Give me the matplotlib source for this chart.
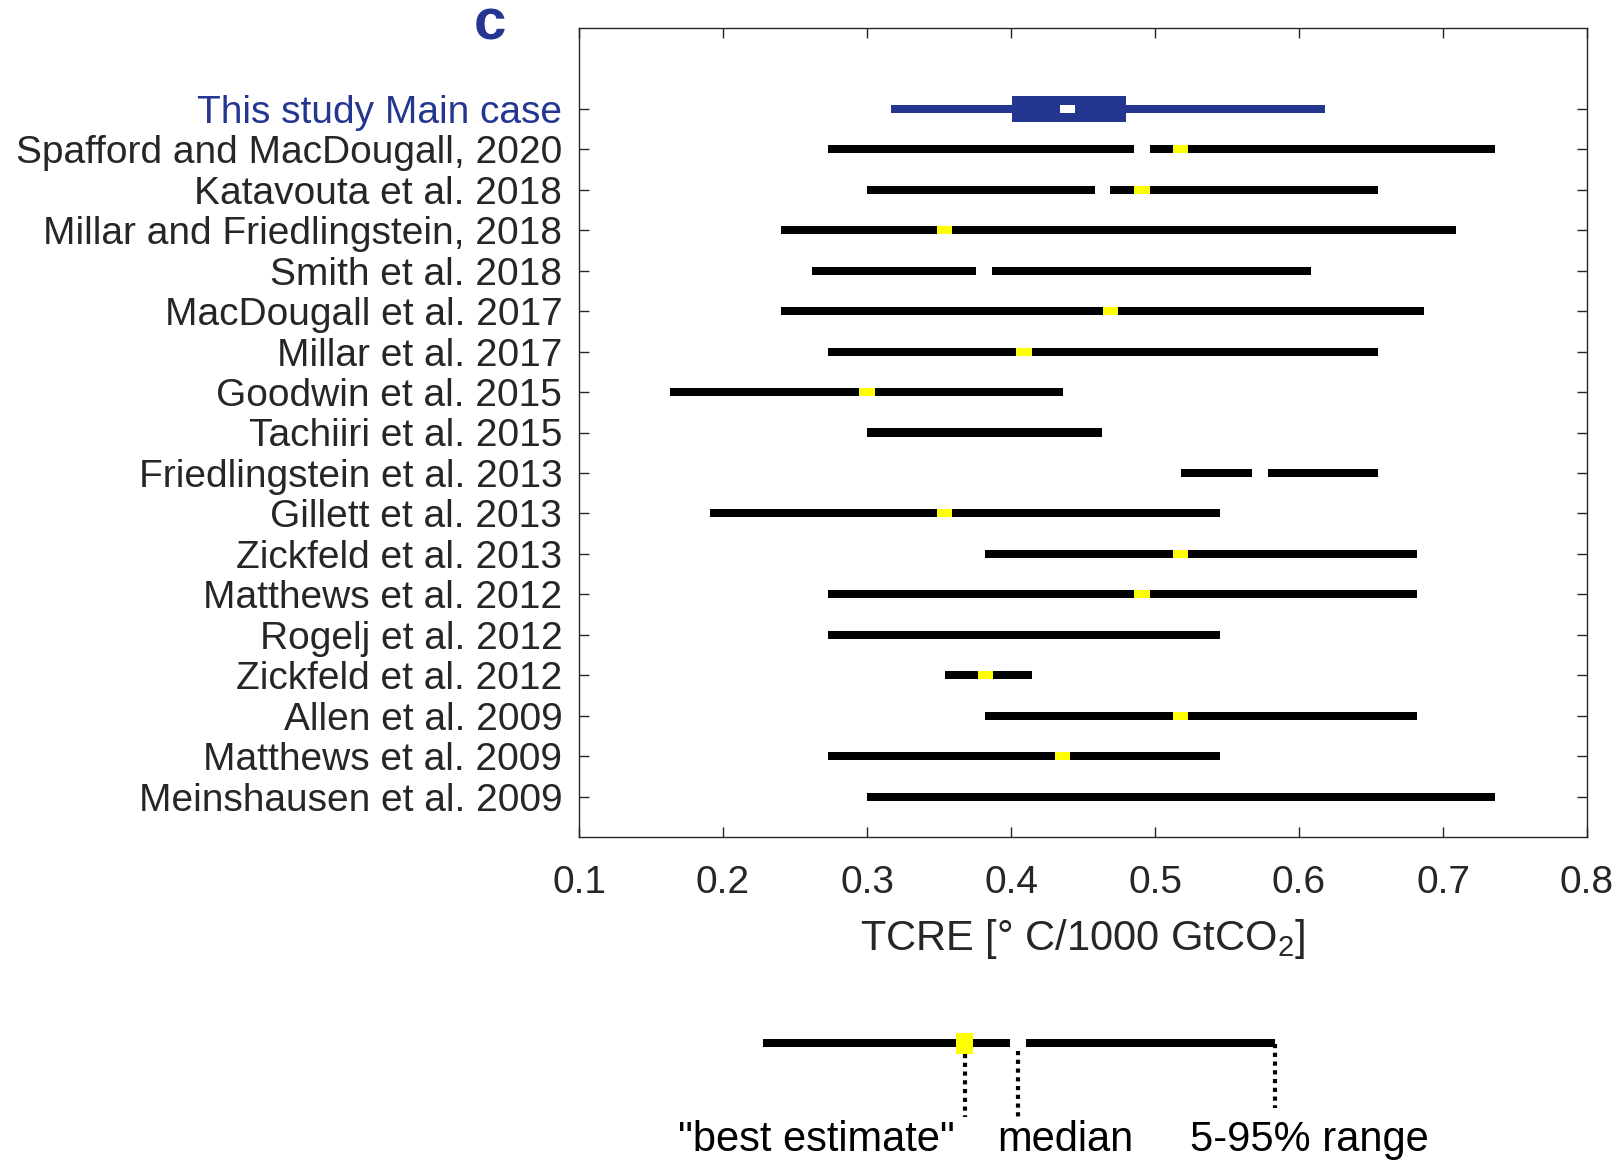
import numpy as np
import matplotlib
matplotlib.use("Agg")
import matplotlib.pyplot as plt

plt.rcParams["font.family"] = ["Liberation Sans", "DejaVu Sans"]
plt.rcParams["mathtext.fontset"] = "custom"
plt.rcParams["mathtext.rm"] = "Liberation Sans"
plt.rcParams["mathtext.it"] = "Liberation Sans:italic"

# ── Data (TCRE, deg C per 1000 GtCO2) ─────────────────────────────────────────
studies = ["Spafford and MacDougall, 2020", "Katavouta et al. 2018",
           "Millar and Friedlingstein, 2018", "Smith et al. 2018",
           "MacDougall et al. 2017", "Millar et al. 2017", "Goodwin et al. 2015",
           "Tachiiri et al. 2015", "Friedlingstein et al. 2013", "Gillett et al. 2013",
           "Zickfeld et al. 2013", "Matthews et al. 2012", "Rogelj et al. 2012",
           "Zickfeld et al. 2012", "Allen et al. 2009", "Matthews et al. 2009",
           "Meinshausen et al. 2009"]
range_lo = [0.273, 0.300, 0.240, 0.262, 0.240, 0.273, 0.163, 0.300, 0.518,
            0.191, 0.382, 0.273, 0.273, 0.354, 0.382, 0.273, 0.300]
range_hi = [0.736, 0.655, 0.709, 0.608, 0.687, 0.655, 0.436, 0.463, 0.655,
            0.545, 0.682, 0.682, 0.545, 0.4145, 0.682, 0.545, 0.736]
median = [0.491, 0.4635, np.nan, 0.3815, np.nan, np.nan, np.nan, np.nan, 0.573,
          np.nan, np.nan, np.nan, np.nan, np.nan, np.nan, np.nan, np.nan]
best = [0.518, 0.491, 0.354, np.nan, 0.469, 0.409, 0.300, np.nan, np.nan,
        0.354, 0.518, 0.491, np.nan, 0.382, 0.518, 0.436, np.nan]

main_label = "This study Main case"
main_whisker = [0.317, 0.618]
main_box = [0.401, 0.480]
main_median = 0.439

# schematic legend example
legend_range = [0.228, 0.583]
legend_median = 0.405
legend_best = 0.368
legend_texts = ['"best estimate"', "median", "5-95% range"]
legend_text_x = [0.265, 0.438, 0.607]

blue = "#24368f"
grey = "#262626"
gap = 0.011
mark_w = 0.0105
bar_h = 0.2

# ── Figure ────────────────────────────────────────────────────────────────────
W, H = 1617, 1161
fig = plt.figure(figsize=(W / 100, H / 100), dpi=100)
ax = fig.add_axes([579 / W, 1 - 837 / H, (1587 - 579) / W, (837 - 28) / H])

n = len(studies)
ypos = np.arange(n, 0, -1)  # study rows, top to bottom

for y, lo, hi, med, be in zip(ypos, range_lo, range_hi, median, best):
    if np.isnan(med):
        ax.barh(y, hi - lo, left=lo, height=bar_h, color="black")
    else:
        ax.barh(y, (med - gap / 2) - lo, left=lo, height=bar_h, color="black")
        ax.barh(y, hi - (med + gap / 2), left=med + gap / 2, height=bar_h, color="black")
    if not np.isnan(be):
        ax.barh(y, mark_w, left=be - mark_w / 2, height=bar_h, color="yellow")

# main case box plot
ym = n + 1
ax.barh(ym, main_whisker[1] - main_whisker[0], left=main_whisker[0],
        height=bar_h, color=blue)
ax.barh(ym, main_box[1] - main_box[0], left=main_box[0], height=0.66, color=blue)
ax.barh(ym, mark_w, left=main_median - mark_w / 2, height=bar_h, color="white")

ax.set_xlim(0.1, 0.8)
ax.set_ylim(0, n + 3)
ax.set_xticks(np.arange(0.1, 0.81, 0.1))
ax.set_xticklabels([f"{v:.1f}" for v in np.arange(0.1, 0.81, 0.1)])
ax.set_yticks(list(ypos) + [ym])
ax.set_yticklabels(studies + [main_label])

ax.tick_params(axis="both", direction="in", length=7, width=1, color=grey,
               labelsize=28, labelcolor=grey, top=True, right=True)
ax.tick_params(axis="x", pad=20)
ax.tick_params(axis="y", pad=12)
ax.get_yticklabels()[-1].set_color(blue)
for s in ax.spines.values():
    s.set_color(grey)
    s.set_linewidth(1)
ax.set_xlabel(r"TCRE [° C/1000 GtCO$_\mathrm{2}$]", fontsize=30, color=grey,
              labelpad=12)

fig.text(490 / W, 1 - 24 / H, "c", fontsize=42, fontweight="bold", color=blue,
         ha="center", va="center")

# ── Legend schematic ──────────────────────────────────────────────────────────
lg = fig.add_axes([579 / W, 0, (1587 - 579) / W, 161 / H])
lg.set_xlim(0.1, 0.8)
lg.set_ylim(0, 161)
lg.axis("off")
lg.barh(118, (legend_median - gap / 2) - legend_range[0], left=legend_range[0],
        height=7.5, color="black")
lg.barh(118, legend_range[1] - (legend_median + gap / 2),
        left=legend_median + gap / 2, height=7.5, color="black")
lg.barh(118, 0.0118, left=legend_best - 0.0059, height=21, color="yellow")
dots = (0, (1, 1.1))
lg.plot([legend_best, legend_best], [107, 44], ls=dots, lw=3, color="black")
lg.plot([legend_median, legend_median], [110, 44], ls=dots, lw=3, color="black")
lg.plot([legend_range[1], legend_range[1]], [117, 53], ls=dots, lw=3, color="black")
for tx, t in zip(legend_text_x, legend_texts):
    lg.text(tx, 10, t, fontsize=30, color="black", ha="center", va="baseline")

fig.savefig("out.png", dpi=100)
